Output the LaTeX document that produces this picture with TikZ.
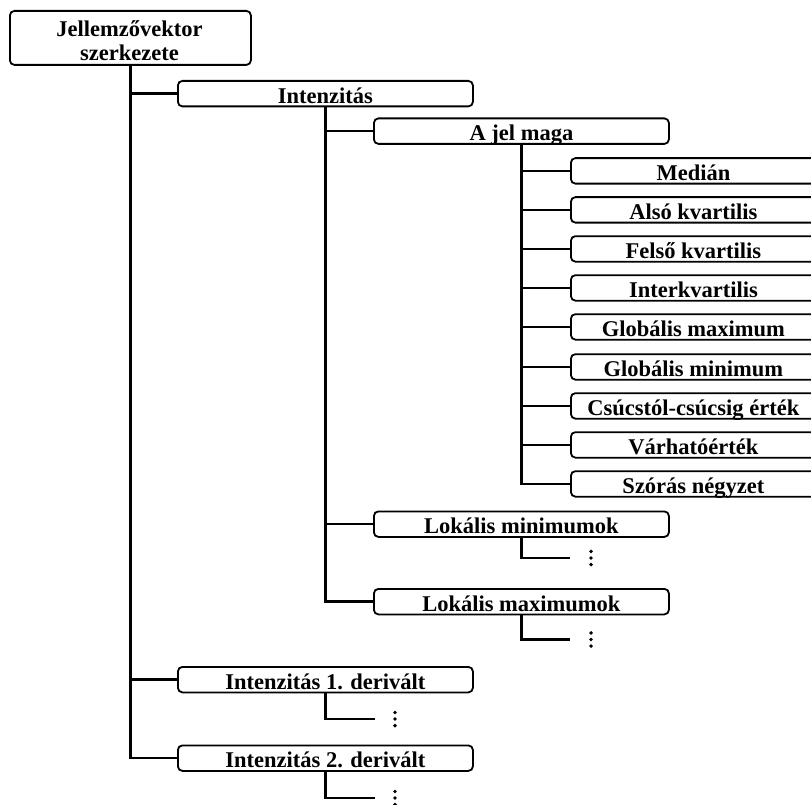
\documentclass[tikz,border=0pt]{standalone}
\usepackage{fontspec}
\setmainfont{Liberation Serif}
\begin{document}
\begin{tikzpicture}[x=1pt,y=-1pt,
  lbl/.style={font=\bfseries\fontsize{22.5}{24}\selectfont},
  box/.style={lbl, draw, line width=1.8pt, rounded corners=4.5pt, anchor=north west,
    inner sep=0pt, text height=22.5pt, text depth=3pt, align=center},
  wide/.style={box, minimum width=295pt},
  leaf/.style={box, minimum width=245pt},
  conn/.style={line width=2.6pt},
  dotcol/.style={inner sep=0pt, minimum width=6pt, minimum height=22pt,
    path picture={
      \fill (path picture bounding box.center) circle[radius=1.9pt]
        ++(0,6.6) circle[radius=1.9pt] ++(0,-13.2) circle[radius=1.9pt];}}
]
\useasboundingbox (0,0) rectangle (811,805);
\clip (0,0) rectangle (811,805);

% root
\node[box, minimum width=241pt, minimum height=54pt, text height=0pt, text depth=0pt] (root) at (9,10) {};
\node[lbl, anchor=base] (rootA) at (129.5,37) {Jellemzővektor};
\node[lbl, anchor=base] (rootB) at (129.5,61) {szerkezete};

% first level
\node[wide] (int) at (177,80) {Intenzitás};
\node[wide] (d1) at (177,666) {Intenzitás 1. derivált};
\node[wide] (d2) at (177,744.5) {Intenzitás 2. derivált};

% second level
\node[wide] (ajel) at (373,117.5) {A jel maga};
\node[wide] (lmin) at (373,510.5) {Lokális minimumok};
\node[wide] (lmax) at (373,588) {Lokális maximumok};

% leaves
\node[leaf] (l1) at (570,157.25) {Medián};
\node[leaf] (l2) at (570,196.25) {Alsó kvartilis};
\node[leaf] (l3) at (570,235.25) {Felső kvartilis};
\node[leaf] (l4) at (570,274.25) {Interkvartilis};
\node[leaf] (l5) at (570,313.25) {Globális maximum};
\node[leaf] (l6) at (570,353.25) {Globális minimum};
\node[leaf] (l7) at (570,392.25) {Csúcstól-csúcsig érték};
\node[leaf] (l8) at (570,431.25) {Várhatóérték};
\node[leaf] (l9) at (570,470.25) {Szórás négyzet};

% continuation marks
\coordinate (smin) at (570,558);
\coordinate (smax) at (570,639.5);
\coordinate (sd1) at (375,719);
\coordinate (sd2) at (375,798);
\node[dotcol] (vmin) at (591,558) {};
\node[dotcol] (vmax) at (591,639.5) {};
\node[dotcol] (vd1) at (395,719) {};
\node[dotcol] (vd2) at (395,798) {};

% connectors
\foreach \t in {int,d1,d2} \draw[conn] (root.south) |- (\t.west);
\foreach \t in {ajel,lmin,lmax} \draw[conn] (int.south) |- (\t.west);
\foreach \t in {l1,l2,l3,l4,l5,l6,l7,l8,l9} \draw[conn] (ajel.south) |- (\t.west);
\draw[conn] (lmin.south) |- (smin);
\draw[conn] (lmax.south) |- (smax);
\draw[conn] (d1.south) |- (sd1);
\draw[conn] (d2.south) |- (sd2);
\end{tikzpicture}
\end{document}
